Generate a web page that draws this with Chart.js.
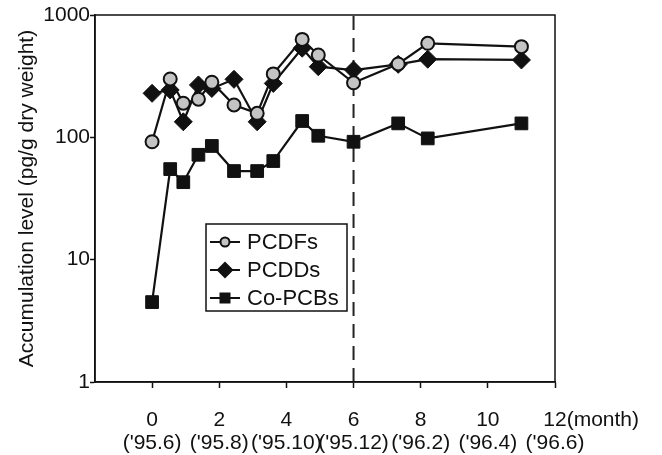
<!DOCTYPE html>
<html>
<head>
<meta charset="utf-8">
<script src="https://cdn.jsdelivr.net/npm/chart.js@4/dist/chart.umd.min.js"></script>
<style>
  html, body { margin: 0; padding: 0; background: #fff; }
  #wrap { width: 662px; height: 455px; }
</style>
</head>
<body>
<div id="wrap"><canvas id="chart"></canvas></div>
<script>
// months after start ('95.6)
var months = [0, 0.54, 0.93, 1.38, 1.78, 2.44, 3.13, 3.61, 4.47, 4.95, 6, 7.33, 8.21, 11.0];
var pcdfs  = [92, 300, 190, 205, 282, 184, 157, 330, 632, 471, 279, 398, 587, 551];
var pcdds  = [229, 244, 134, 268, 251, 298, 134, 276, 535, 378, 355, 395, 435, 429];
var coPcbs = [4.5, 55, 43, 72, 85, 53, 53, 64, 136, 103, 92, 130, 98, 130];

var xTicks = [0, 2, 4, 6, 8, 10, 12];
var dateLabels = ["('95.6)", "('95.8)", "('95.10)", "('95.12)", "('96.2)", "('96.4)", "('96.6)"];
var yTicks = [1, 10, 100, 1000];
var dividerMonth = 6;

var FONT = "'Liberation Sans', Arial, Helvetica, sans-serif";
Chart.defaults.font.family = FONT;
Chart.defaults.color = '#111';

function toPoints(ys) {
    return months.map(function (m, i) { return { x: m, y: ys[i] }; });
}

// box frame + "(month)" after the last tick + inset legend
var extras = {
    id: 'extras',
    afterDraw: function (chart) {
        var ctx = chart.ctx, a = chart.chartArea;
        ctx.save();
        ctx.strokeStyle = '#111';
        ctx.lineWidth = 1.5;
        ctx.strokeRect(a.left, a.top, a.right - a.left, a.bottom - a.top);

        // "(month)" tail on the 12 label
        var xs = chart.scales.x;
        ctx.font = '21px ' + FONT;
        ctx.fillStyle = '#111';
        ctx.textBaseline = 'middle';
        ctx.textAlign = 'left';
        var px = xs.getPixelForValue(12) + ctx.measureText('12').width / 2;
        ctx.fillText('(month)', px, xs.top + 6 + 21 + 11.5);

        // legend
        var bx = 206, by = 224, bw = 141, bh = 87;
        ctx.fillStyle = '#fff';
        ctx.fillRect(bx, by, bw, bh);
        ctx.strokeRect(bx, by, bw, bh);
        var rows = [
            { label: 'PCDFs', style: 'circle' },
            { label: 'PCDDs', style: 'diamond' },
            { label: 'Co-PCBs', style: 'square' }
        ];
        ctx.font = '22px ' + FONT;
        rows.forEach(function (r, i) {
            var cy = by + 18 + i * 28, cx = bx + 19;
            ctx.strokeStyle = '#111';
            ctx.lineWidth = 2;
            ctx.beginPath();
            ctx.moveTo(bx + 4, cy);
            ctx.lineTo(bx + 34, cy);
            ctx.stroke();
            ctx.beginPath();
            if (r.style === 'circle') {
                ctx.arc(cx, cy, 4.5, 0, Math.PI * 2);
                ctx.fillStyle = '#c4c4c4';
                ctx.fill();
                ctx.stroke();
            } else if (r.style === 'diamond') {
                ctx.moveTo(cx, cy - 8.5);
                ctx.lineTo(cx + 8.5, cy);
                ctx.lineTo(cx, cy + 8.5);
                ctx.lineTo(cx - 8.5, cy);
                ctx.closePath();
                ctx.fillStyle = '#111';
                ctx.fill();
            } else {
                ctx.fillStyle = '#111';
                ctx.fillRect(cx - 5.5, cy - 5.5, 11, 11);
            }
            ctx.fillStyle = '#111';
            ctx.fillText(r.label, bx + 41, cy + 1);
        });
        ctx.restore();
    }
};

new Chart(document.getElementById('chart'), {
    type: 'line',
    data: {
        datasets: [{
            label: 'PCDFs',
            data: toPoints(pcdfs),
            borderColor: '#111',
            borderWidth: 2.2,
            pointStyle: 'circle',
            pointRadius: 6.5,
            pointBorderWidth: 2,
            pointBorderColor: '#111',
            pointBackgroundColor: '#c4c4c4'
        }, {
            label: 'PCDDs',
            data: toPoints(pcdds),
            borderColor: '#111',
            borderWidth: 2.2,
            pointStyle: 'rectRot',
            pointRadius: 9,
            pointBorderWidth: 1,
            pointBorderColor: '#111',
            pointBackgroundColor: '#111'
        }, {
            label: 'Co-PCBs',
            data: toPoints(coPcbs),
            borderColor: '#111',
            borderWidth: 2.2,
            pointStyle: 'rect',
            pointRadius: 9,
            pointBorderWidth: 1,
            pointBorderColor: '#111',
            pointBackgroundColor: '#111'
        }, {
            label: 'divider',
            data: [{ x: dividerMonth, y: yTicks[0] }, { x: dividerMonth, y: yTicks[yTicks.length - 1] }],
            borderColor: '#222',
            borderWidth: 2,
            borderDash: [14, 8],
            pointRadius: 0
        }]
    },
    options: {
        responsive: true,
        maintainAspectRatio: false,
        animation: false,
        events: [],
        layout: { padding: { left: 0, right: 107, top: 15, bottom: 0 } },
        plugins: {
            legend: { display: false },
            tooltip: { enabled: false }
        },
        scales: {
            x: {
                type: 'linear',
                min: -1.7,
                max: 12,
                afterBuildTicks: function (s) {
                    s.ticks = xTicks.map(function (v) { return { value: v }; });
                },
                afterFit: function (s) { s.height = 73; },
                grid: { drawOnChartArea: false, tickLength: 6, color: '#111', tickWidth: 1.5 },
                border: { color: '#111', width: 1.5 },
                ticks: {
                    maxRotation: 0,
                    autoSkip: false,
                    padding: 21,
                    font: { size: 21, lineHeight: 1.1 },
                    callback: function (v) {
                        var i = xTicks.indexOf(v);
                        return [String(v), dateLabels[i]];
                    }
                }
            },
            y: {
                type: 'logarithmic',
                min: 1,
                max: 1000,
                afterBuildTicks: function (s) {
                    s.ticks = yTicks.map(function (v) { return { value: v }; });
                },
                afterFit: function (s) { s.width = 95; },
                grid: { drawOnChartArea: false, tickLength: 5, color: '#111', tickWidth: 1.5 },
                border: { color: '#111', width: 1.5 },
                ticks: {
                    padding: 0,
                    font: { size: 21 },
                    callback: function (v) { return String(v); }
                },
                title: {
                    display: true,
                    text: 'Accumulation level (pg/g dry weight)',
                    font: { size: 21 },
                    padding: { top: 15, bottom: 0 }
                }
            }
        }
    },
    plugins: [extras]
});
</script>
</body>
</html>
